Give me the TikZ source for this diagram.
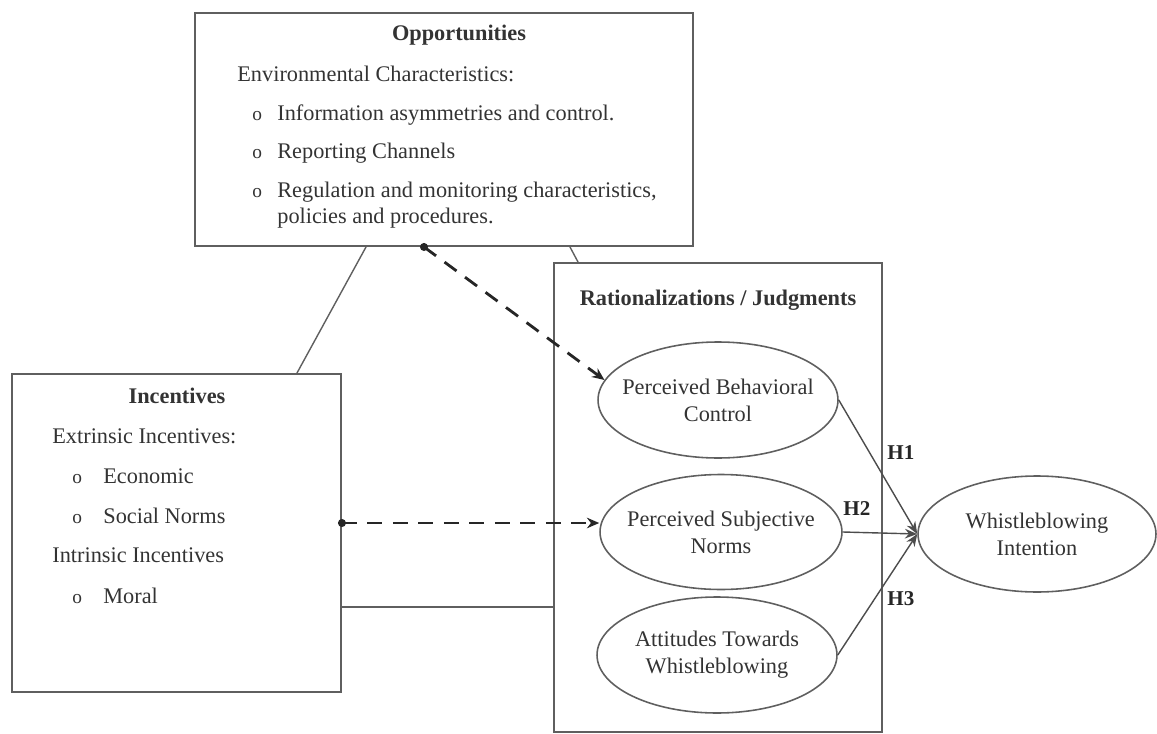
\documentclass[tikz,border=0pt]{standalone}
\usepackage{fontspec}
\setmainfont{Liberation Serif}
\usetikzlibrary{arrows.meta,shapes.geometric,fit}

\definecolor{linec}{HTML}{5F5F5F}
\definecolor{textc}{HTML}{333333}

\tikzset{
  box/.style={draw=linec, line width=1.1pt, inner sep=0pt},
  oval/.style={ellipse, draw=linec, line width=0.9pt, inner sep=0pt},
  ovaltext/.style={align=center, text=textc, inner sep=0pt, font=\fontsize{12.7}{15.3}\selectfont},
  txt/.style={anchor=base west, inner sep=0pt, text=textc, font=\fontsize{12.7}{15}\selectfont},
  head/.style={anchor=base, inner sep=0pt, text=textc, font=\fontsize{12.7}{15}\selectfont\bfseries},
  hyp/.style={anchor=base west, inner sep=0pt, text=black!85, font=\fontsize{12}{14}\selectfont\bfseries},
  bul/.style={anchor=base west, inner sep=0pt, text=textc, font=\fontsize{11}{13}\selectfont},
  link/.style={draw=linec, line width=0.8pt},
  hypo/.style={draw=black!70, line width=0.8pt, -{Stealth[length=7pt,width=5.5pt]}},
  dashlink/.style={draw=black!85, line width=1.6pt, dash pattern=on 8.5pt off 6pt,
    -{Stealth[length=7pt,width=6pt]}},
  srcdot/.style={fill=black!85},
}

\begin{document}
\begin{tikzpicture}[x=0.02cm,y=-0.02cm]
\useasboundingbox (0,0) rectangle (1157,734);

% ---- frames ----
\node[box, fit={(195,13) (693,246)}] (opp) {};
\node[box, fit={(12,374) (341,692)}] (inc) {};
\node[box, fit={(554,263) (882,732)}] (rat) {};

% ---- Opportunities ----
\node[head] (opp-h) at (459,40) {Opportunities};
\node[txt] (opp-e) at (237,81) {Environmental Characteristics:};
\node[bul] (opp-b1) at (252,120) {o};
\node[txt] (opp-1) at (277,120) {Information asymmetries and control.};
\node[bul] (opp-b2) at (252,158) {o};
\node[txt] (opp-2) at (277,158) {Reporting Channels};
\node[bul] (opp-b3) at (252,197) {o};
\node[txt] (opp-3) at (277,197) {Regulation and monitoring characteristics,};
\node[txt] (opp-4) at (277,223) {policies and procedures.};

% ---- Incentives ----
\node[head] (inc-h) at (177,403) {Incentives};
\node[txt] (inc-e) at (52,443) {Extrinsic Incentives:};
\node[bul] (inc-b1) at (72,483) {o};
\node[txt] (inc-1) at (103,483) {Economic};
\node[bul] (inc-b2) at (72,523) {o};
\node[txt] (inc-2) at (103,523) {Social Norms};
\node[txt] (inc-i) at (52,562) {Intrinsic Incentives};
\node[bul] (inc-b3) at (72,603) {o};
\node[txt] (inc-3) at (103,603) {Moral};

% ---- Rationalizations / Judgments ----
\node[head] (rat-h) at (718,305) {Rationalizations / Judgments};

\node[oval, minimum width=4.8cm, minimum height=2.32cm] (pbc) at (718,400) {};
\node[ovaltext] (pbc-t) at (pbc.center) {Perceived Behavioral\\Control};
\node[oval, minimum width=4.84cm, minimum height=2.3cm] (psn) at (721,532) {};
\node[ovaltext] (psn-t) at (psn.center) {Perceived Subjective\\Norms};
\node[oval, minimum width=4.8cm, minimum height=2.32cm] (atw) at (717,655) {};
\node[ovaltext] (atw-t) at (atw.center) {Attitudes Towards\\Whistleblowing};

\node[oval, minimum width=4.76cm, minimum height=2.32cm] (wi) at (1037,534) {};
\node[ovaltext] (wi-t) at (wi.center) {Whistleblowing\\Intention};

% ---- plain links between frames ----
\draw[link] ([xshift=-1.56cm]opp.south) -- ([xshift=2.41cm]inc.north);
\draw[link] ([xshift=2.52cm]opp.south) -- ([xshift=-2.8cm]rat.north);
\draw[link] ([yshift=-1.48cm]inc.east) -- ([yshift=-1.48cm]inc.east -| rat.west);

% ---- moderating (dashed) paths ----
\coordinate (oppsrc) at ([xshift=-0.4cm]opp.south);
\coordinate (incsrc) at ([yshift=0.2cm]inc.east);
\fill[srcdot] (oppsrc) circle[radius=2.3pt];
\fill[srcdot] (incsrc) circle[radius=2.3pt];
\draw[dashlink] (oppsrc) -- (pbc.170);
\draw[dashlink] (incsrc) -- (incsrc -| psn.west);

% ---- hypotheses ----
\draw[hypo] (pbc.east) -- (wi.west);
\draw[hypo] (psn.east) -- (wi.west);
\draw[hypo] (atw.east) -- (wi.west);
\node[hyp] (h1) at (887,459) {H1};
\node[hyp] (h2) at (843,515) {H2};
\node[hyp] (h3) at (887,605) {H3};
\end{tikzpicture}
\end{document}
